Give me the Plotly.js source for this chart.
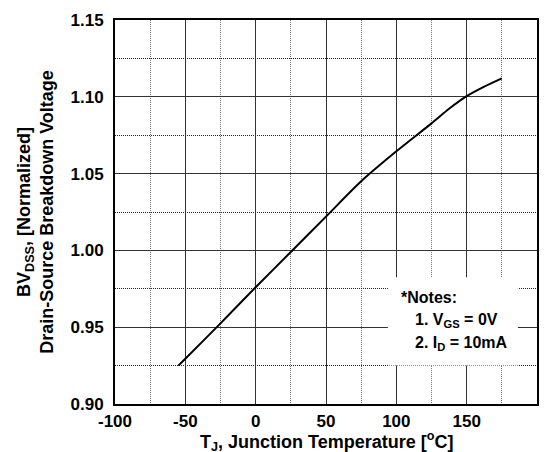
<!DOCTYPE html>
<html>
<head>
<meta charset="utf-8">
<script src="https://cdn.plot.ly/plotly-3.0.1.min.js"></script>
<style>html,body{margin:0;padding:0;background:#fff;}#chart{width:551px;height:452px;}</style>
</head>
<body>
<div id="chart"></div>
<script>
// Junction temperature (°C) and normalized breakdown voltage
var tempC = [-55, -50, -25, 0, 25, 50, 75, 100, 125, 137.5, 150, 162.5, 175];
var bvdss = [0.925, 0.9295, 0.9525, 0.976, 0.999, 1.022, 1.045, 1.0645, 1.0827, 1.0922, 1.1004, 1.1066, 1.112];

var xTickVals = [-100, -50, 0, 50, 100, 150, 200];
var xTickText = ["-100", "-50", "0", "50", "100", "150", "200"];
var xMinorVals = [-75, -25, 25, 75, 125, 175];
var yTickVals = [0.90, 0.95, 1.00, 1.05, 1.10, 1.15];
var yTickText = ["0.90", "0.95", "1.00", "1.05", "1.10", "1.15"];
var yMinorVals = [0.925, 0.975, 1.025, 1.075, 1.125];

var xTitle = "T<sub>J</sub>, Junction Temperature [<sup>o</sup>C]";
var yTitle = ["BV<sub>DSS</sub>, [Normalized]", "Drain-Source Breakdown Voltage"];
var notes = ["*Notes:", "1. V<sub>GS</sub> = 0V", "2. I<sub>D</sub> = 10mA"];

var FONT = "Liberation Sans, Arial, sans-serif";
function b(s) { return "<b>" + s + "</b>"; }

var trace = {
  x: tempC, y: bvdss, type: "scatter", mode: "lines",
  line: {color: "#000", width: 2, shape: "spline", smoothing: 0.8},
  hoverinfo: "skip"
};

var layout = {
  width: 551, height: 452,
  margin: {l: 115, r: 14, t: 20, b: 48},
  paper_bgcolor: "#fff", plot_bgcolor: "#fff",
  showlegend: false,
  font: {family: FONT, color: "#000"},
  xaxis: {
    range: [-100, 200], tickmode: "array", tickvals: xTickVals, ticktext: xTickText.map(b),
    showgrid: true, gridcolor: "#333", gridwidth: 1,
    minor: {tickmode: "array", tickvals: xMinorVals, showgrid: true, gridcolor: "#777", griddash: "1px,1px", gridwidth: 1},
    zeroline: false,
    showline: true, linecolor: "#000", linewidth: 2, mirror: true,
    ticks: "", ticklabelstandoff: 1,
    tickfont: {family: FONT, size: 17, weight: 700, color: "#000"}
  },
  yaxis: {
    range: [0.90, 1.15], tickmode: "array", tickvals: yTickVals, ticktext: yTickText.map(b),
    showgrid: true, gridcolor: "#333", gridwidth: 1,
    minor: {tickmode: "array", tickvals: yMinorVals, showgrid: true, gridcolor: "#222", griddash: "1px,1px", gridwidth: 1},
    zeroline: false,
    showline: true, linecolor: "#000", linewidth: 2, mirror: true,
    ticks: "", ticklabelstandoff: 6,
    tickfont: {family: FONT, size: 17, weight: 700, color: "#000"},
    title: {text: yTitle.map(b).join("<br>"), font: {family: FONT, size: 18, weight: 700, color: "#000"}, standoff: 12}
  },
  shapes: [{
    type: "rect", xref: "x", yref: "y", x0: 94, x1: 186.4, y0: 0.925, y1: 0.9825,
    fillcolor: "#fff", line: {width: 0}, layer: "above"
  }],
  annotations: [
    {text: b(xTitle), x: 0.5, y: -0.098, xref: "paper", yref: "paper", xanchor: "center", yanchor: "middle", showarrow: false,
     font: {family: FONT, size: 18, weight: 700, color: "#000"}},
    {text: b(notes[0]), x: 101.8, y: 0.9696, xref: "x", yref: "y", xanchor: "left", yanchor: "middle", showarrow: false,
     font: {family: FONT, size: 16, weight: 700, color: "#000"}},
    {text: b(notes[1]), x: 111.8, y: 0.9543, xref: "x", yref: "y", xanchor: "left", yanchor: "middle", showarrow: false,
     font: {family: FONT, size: 16, weight: 700, color: "#000"}},
    {text: b(notes[2]), x: 111.8, y: 0.9393, xref: "x", yref: "y", xanchor: "left", yanchor: "middle", showarrow: false,
     font: {family: FONT, size: 16, weight: 700, color: "#000"}}
  ]
};

Plotly.newPlot("chart", [trace], layout, {staticPlot: true, displayModeBar: false});
</script>
</body>
</html>
